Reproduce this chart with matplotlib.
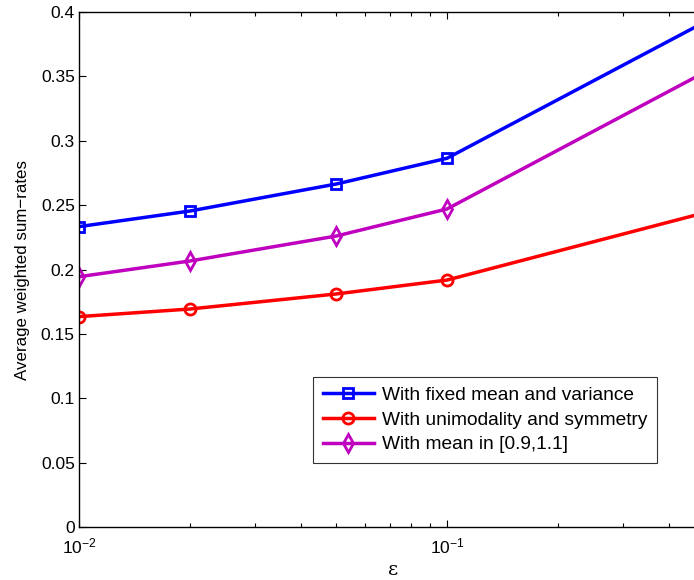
import matplotlib
matplotlib.use("Agg")
import matplotlib.pyplot as plt
from matplotlib.ticker import FixedLocator, LogLocator, NullFormatter

plt.rcParams['font.family'] = ['Liberation Sans', 'DejaVu Sans']

eps = [0.01, 0.02, 0.05, 0.1, 0.5]
fixed_mean_var = [0.2333, 0.2454, 0.2664, 0.2864, 0.392]
unimodal_sym = [0.1634, 0.1693, 0.1810, 0.1918, 0.244]
mean_interval = [0.1944, 0.2066, 0.2260, 0.2470, 0.353]
labels = ['With fixed mean and variance', 'With unimodality and symmetry', 'With mean in [0.9,1.1]']
yticks = [0, 0.05, 0.1, 0.15, 0.2, 0.25, 0.3, 0.35, 0.4]
ytick_labels = ['0', '0.05', '0.1', '0.15', '0.2', '0.25', '0.3', '0.35', '0.4']

fig = plt.figure(figsize=(6.94, 5.8), dpi=100)
ax = fig.add_axes([79/694, 53/580, 1.0 - 79/694 + 0.02, 515/580])

ax.plot(eps, fixed_mean_var, color='#0000ff', lw=2.5, marker='s', ms=7, mfc='none', mew=2, label=labels[0])
ax.plot(eps, unimodal_sym, color='#ff0000', lw=2.5, marker='o', ms=8, mfc='none', mew=2, label=labels[1])
ax.plot(eps, mean_interval, color='#bf00bf', lw=2.5, marker='d', ms=9, mfc='none', mew=2, label=labels[2])

ax.set_xscale('log')
ax.set_xlim(0.01, 10**(-2 + 615/368 + 0.02*694/368))
ax.set_ylim(0, 0.4)
ax.set_yticks(yticks)
ax.set_yticklabels(ytick_labels)
ax.xaxis.set_major_locator(FixedLocator([0.01, 0.1, 1]))
ax.xaxis.set_minor_locator(LogLocator(base=10, subs=range(2, 10)))
ax.xaxis.set_minor_formatter(NullFormatter())
ax.tick_params(direction='in', which='both', top=True, right=True, labelsize=12.5, width=0.8)
ax.tick_params(axis='x', pad=7)
ax.tick_params(axis='y', pad=3)
ax.tick_params(which='major', length=5)
ax.tick_params(which='minor', length=3)
for s in ax.spines.values():
    s.set_linewidth(1.0)

ax.set_xlabel('ε', fontsize=14, family=['DejaVu Serif'], labelpad=3)
ax.set_ylabel('Average weighted sum−rates', fontsize=12.2, labelpad=8)

leg = ax.legend(loc='lower left', fontsize=13.8, frameon=True, fancybox=False, edgecolor='black',
                handlelength=2.7, borderpad=0.5, labelspacing=0.38, handletextpad=0.4, borderaxespad=0)
leg.get_frame().set_linewidth(0.8)
leg.set_bbox_to_anchor((313/694, (580-463)/580), transform=fig.transFigure)

fig.savefig('out.png', dpi=100)
